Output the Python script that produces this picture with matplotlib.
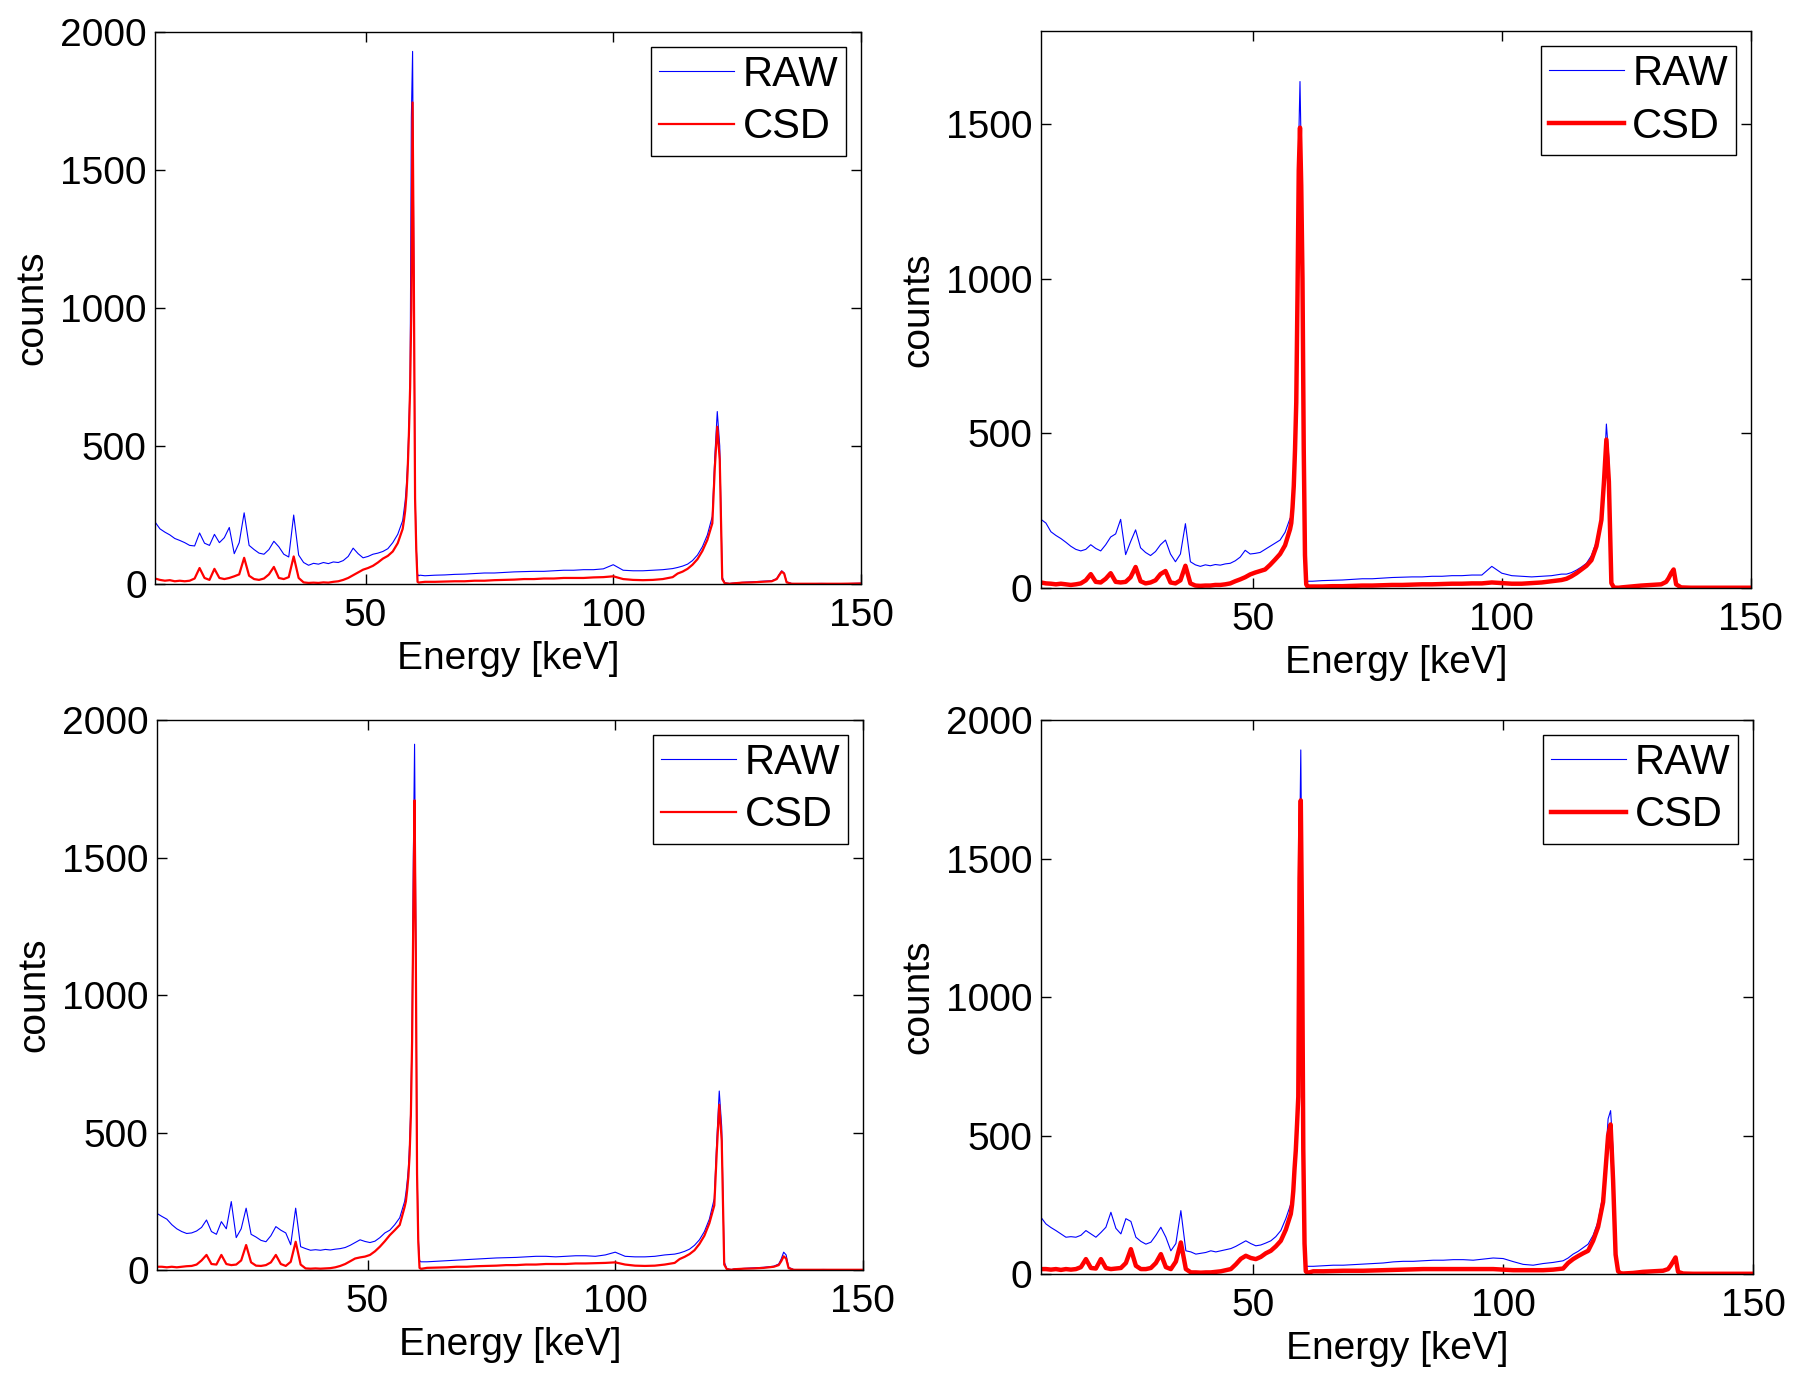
# Four RAW vs CSD energy spectra (2x2 panels)

import matplotlib
matplotlib.use('Agg')
import matplotlib.pyplot as plt

plt.rcParams['font.family'] = ['Liberation Sans', 'DejaVu Sans']

# energy axis [keV], denser around the 59.5 and 122 keV lines
energy = [
    7.5, 8.5, 9.5, 10.5, 11.5, 12.5, 13.5, 14.5, 15.5, 16.5,
    17.5, 18.5, 19.5, 20.5, 21.5, 22.5, 23.5, 24.5, 25.5, 26.5,
    27.5, 28.5, 29.5, 30.5, 31.5, 32.5, 33.5, 34.5, 35.5, 36.5,
    37.5, 38.5, 39.5, 40.5, 41.5, 42.5, 43.5, 44.5, 45.5, 46.5,
    47.5, 48.5, 49.5, 50.5, 51.5, 52.5, 53.5, 54.5, 55.5, 56.5,
    57.5,
    57.75, 58.0, 58.25, 58.5, 58.75, 59.0, 59.25, 59.5, 59.75, 60.0, 60.25, 60.5, 60.75, 61.0,
    62, 64, 66, 68, 70, 72, 74, 76, 78, 80, 82, 84, 86,
    88, 90, 92, 94, 96, 98, 100, 102, 104, 106, 108, 110, 112,
    113, 114, 115, 116, 117, 118, 119, 120,
    120.5, 121.0, 121.5, 122.0, 122.5, 123.0, 123.5,
    124, 126, 128, 130, 132,
    133, 133.5, 134, 134.5, 135, 136,
    138, 142, 146, 150,
]

# top left panel
tl_raw = [
    225, 200, 188, 178, 165, 158, 150, 140, 138, 185,
    148, 140, 180, 150, 168, 205, 110, 150, 258, 140,
    125, 112, 108, 125, 155, 135, 108, 98, 250, 105,
    78, 68, 75, 72, 78, 74, 80, 78, 85, 100,
    130, 110, 95, 100, 108, 112, 118, 128, 150, 180,
    230,
    265, 300, 355, 440, 570, 740, 1690, 1930, 1150, 330, 130, 35, 30, 32,
    30, 32, 33, 35, 36, 38, 40, 40, 42, 44, 45, 46, 46,
    48, 50, 50, 52, 52, 55, 70, 50, 48, 48, 50, 52, 56,
    60, 65, 72, 85, 105, 135, 178, 245,
    460, 625, 500, 25, 5, 3, 2,
    3, 6, 8, 10, 12,
    20, 35, 48, 40, 8, 2,
    1, 2, 1, 3,
]
tl_csd = [
    20, 15, 12, 14, 10, 12, 10, 12, 20, 58,
    22, 15, 55, 22, 18, 22, 28, 35, 95, 30,
    18, 15, 20, 35, 62, 22, 18, 25, 100, 22,
    6, 4, 5, 4, 6, 5, 8, 10, 15, 22,
    32, 42, 52, 58, 66, 78, 92, 102, 118, 148,
    200,
    230, 265, 320, 410, 540, 710, 1000, 1745, 1110, 310, 120, 8, 5, 6,
    8, 8, 9, 10, 10, 12, 12, 14, 15, 16, 18, 18, 20,
    20, 22, 22, 22, 24, 25, 28, 18, 15, 14, 15, 18, 25,
    38, 45, 55, 70, 90, 120, 160, 220,
    420, 570, 450, 18, 3, 2, 1,
    2, 5, 6, 8, 10,
    18, 32, 45, 38, 6, 1,
    1, 1, 1, 2,
]

# top right panel
tr_raw = [
    222, 210, 182, 170, 160, 148, 135, 125, 120, 125,
    140, 128, 120, 140, 165, 175, 222, 108, 150, 188,
    130, 115, 105, 118, 140, 155, 110, 85, 110, 208,
    85, 75, 70, 75, 72, 76, 74, 78, 80, 88,
    100, 122, 110, 112, 115, 125, 135, 145, 155, 180,
    225,
    230, 285, 360, 470, 630, 1000, 1450, 1637, 1400, 1080, 480, 120, 28, 22,
    22, 24, 25, 26, 28, 30, 30, 32, 34, 35, 36, 36, 38,
    38, 40, 40, 42, 42, 70, 48, 40, 38, 36, 38, 40, 45,
    45, 50, 58, 68, 80, 105, 150, 230,
    360, 530, 420, 20, 3, 2, 2,
    3, 6, 10, 12, 14,
    22, 35, 50, 62, 15, 3,
    2, 1, 1, 2,
]
tr_csd = [
    18, 15, 14, 12, 14, 12, 10, 12, 15, 25,
    45, 20, 18, 30, 48, 20, 18, 20, 35, 68,
    22, 15, 18, 25, 45, 55, 18, 15, 25, 72,
    15, 8, 7, 8, 8, 10, 10, 12, 15, 22,
    28, 35, 44, 50, 55, 60, 75, 92, 110, 138,
    190,
    210, 260, 330, 447, 600, 950, 1350, 1488, 1300, 1000, 450, 106, 12, 5,
    5, 5, 6, 6, 7, 8, 8, 9, 10, 10, 11, 12, 12,
    13, 14, 14, 15, 15, 18, 16, 14, 14, 16, 18, 22, 26,
    30, 38, 48, 60, 72, 90, 135, 220,
    340, 480, 344, 16, 2, 1, 1,
    2, 5, 8, 10, 12,
    20, 32, 48, 60, 12, 2,
    1, 1, 1, 1,
]

# bottom left panel
bl_raw = [
    206, 195, 185, 165, 150, 140, 133, 135, 142, 155,
    182, 140, 130, 176, 150, 249, 118, 150, 225, 130,
    120, 108, 103, 125, 158, 145, 135, 92, 225, 85,
    78, 72, 74, 72, 75, 73, 76, 78, 82, 90,
    100, 110, 104, 100, 105, 118, 135, 145, 165, 190,
    250,
    280, 320, 370, 460, 600, 880, 1500, 1912, 1250, 380, 120, 35, 30, 30,
    30, 32, 34, 36, 38, 40, 42, 44, 45, 46, 48, 50, 50,
    48, 50, 52, 52, 50, 55, 65, 50, 48, 48, 50, 55, 58,
    62, 68, 76, 90, 110, 140, 185, 260,
    470, 651, 520, 30, 6, 3, 2,
    4, 6, 8, 10, 14,
    22, 40, 65, 55, 10, 2,
    1, 2, 1, 2,
]
bl_csd = [
    12, 12, 10, 12, 10, 12, 14, 15, 20, 35,
    55, 22, 20, 55, 22, 18, 20, 35, 91, 28,
    16, 15, 18, 28, 55, 22, 15, 30, 103, 20,
    6, 5, 6, 5, 6, 7, 10, 15, 22, 32,
    42, 46, 49, 55, 68, 85, 105, 127, 145, 164,
    230,
    250, 290, 340, 420, 560, 830, 1300, 1708, 1150, 350, 100, 8, 5, 5,
    8, 9, 10, 12, 12, 14, 15, 16, 18, 18, 20, 20, 22,
    22, 22, 24, 24, 25, 26, 28, 20, 16, 15, 16, 20, 26,
    40, 48, 58, 72, 95, 125, 170, 235,
    430, 601, 470, 20, 4, 2, 1,
    3, 5, 6, 8, 12,
    18, 32, 50, 42, 7, 1,
    1, 1, 1, 1,
]

# bottom right panel
br_raw = [
    205, 181, 168, 157, 145, 133, 135, 133, 140, 157,
    145, 133, 150, 169, 223, 165, 145, 200, 190, 133,
    118, 108, 115, 140, 169, 133, 84, 110, 229, 84,
    80, 72, 75, 78, 84, 80, 84, 88, 92, 100,
    110, 120, 110, 102, 105, 112, 120, 135, 157, 200,
    253,
    270, 310, 390, 460, 560, 680, 1500, 1892, 1350, 480, 130, 32, 28, 28,
    28, 30, 32, 32, 34, 36, 38, 40, 44, 46, 46, 48, 50,
    50, 52, 52, 50, 54, 58, 56, 45, 35, 32, 38, 42, 48,
    58, 72, 82, 95, 108, 140, 190, 290,
    420, 560, 590, 445, 100, 20, 5,
    3, 5, 8, 10, 14,
    20, 35, 50, 62, 10, 3,
    2, 1, 1, 2,
]
br_csd = [
    18, 18, 16, 18, 15, 18, 16, 18, 25, 54,
    22, 20, 54, 22, 18, 20, 22, 40, 90, 30,
    18, 18, 22, 40, 72, 25, 18, 45, 114, 18,
    6, 6, 5, 6, 6, 8, 10, 14, 18, 35,
    55, 66, 58, 54, 62, 75, 84, 100, 120, 160,
    217,
    250, 300, 380, 446, 540, 640, 1428, 1710, 1250, 450, 110, 10, 6, 5,
    10, 10, 11, 12, 12, 12, 13, 14, 15, 16, 17, 18, 18,
    18, 18, 18, 18, 18, 18, 16, 14, 14, 14, 14, 16, 20,
    40, 54, 65, 75, 84, 120, 170, 260,
    380, 500, 540, 337, 70, 10, 3,
    2, 4, 8, 10, 12,
    18, 30, 45, 60, 8, 2,
    1, 1, 1, 1,
]


def draw_panel(fig, rect, raw, csd, ymax, yticks, csd_width):
    ax = fig.add_axes(rect)
    ax.plot(energy, raw, color=(0, 0, 1), linewidth=0.8, label='RAW')
    ax.plot(energy, csd, color=(1, 0, 0), linewidth=csd_width, label='CSD')
    ax.set_xlim(7.5, 150)
    ax.set_ylim(0, ymax)
    ax.set_xticks([50, 100, 150])
    ax.set_yticks(yticks)
    ax.tick_params(direction='in', top=True, right=True, length=7, width=1,
                   labelsize=28, pad=6)
    ax.tick_params(axis='x', pad=10)
    for s in ax.spines.values():
        s.set_linewidth(1.0)
    ax.set_xlabel('Energy [keV]', fontsize=28, labelpad=5)
    ax.set_ylabel('counts', fontsize=28, labelpad=7)
    leg = ax.legend(loc='upper right', fontsize=30, fancybox=False,
                    edgecolor='black', framealpha=1, handlelength=1.8,
                    handletextpad=0.2, labelspacing=0.3, borderpad=0.2,
                    borderaxespad=0.35)
    leg.get_frame().set_linewidth(1.0)
    return ax


fig = plt.figure(figsize=(18, 13.82), dpi=100)

draw_panel(fig, [0.0861, 0.5774, 0.3922, 0.3994], tl_raw, tl_csd,
           2000, [0, 500, 1000, 1500, 2000], 1.6)
draw_panel(fig, [0.5783, 0.5745, 0.3944, 0.4030], tr_raw, tr_csd,
           1800, [0, 500, 1000, 1500], 3.2)
draw_panel(fig, [0.0872, 0.0810, 0.3922, 0.3980], bl_raw, bl_csd,
           2000, [0, 500, 1000, 1500, 2000], 1.6)
draw_panel(fig, [0.5783, 0.0781, 0.3956, 0.4009], br_raw, br_csd,
           2000, [0, 500, 1000, 1500, 2000], 3.2)

fig.savefig('out.png', dpi=100)
